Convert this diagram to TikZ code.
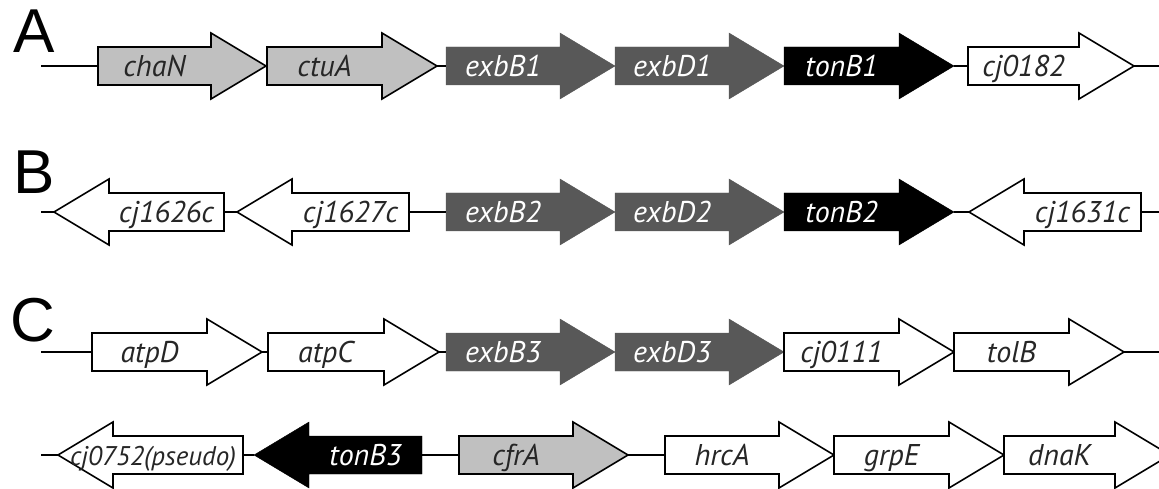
\documentclass[tikz,border=0pt]{standalone}
\usepackage{fontspec}
\newfontfamily\genefont{PT Sans}
\newfontfamily\panelfont{Liberation Sans}
\definecolor{lightgene}{HTML}{C0C0C0}
\definecolor{darkgene}{HTML}{585858}
\tikzset{
  backbone/.style={line width=1.6pt, draw=black},
  gwhite/.style={fill=white, draw=black, line width=1.6pt, line join=miter},
  glight/.style={fill=lightgene, draw=black, line width=1.6pt, line join=miter},
  gdark/.style={fill=darkgene, draw=darkgene, line width=0.4pt},
  gblack/.style={fill=black, draw=black, line width=0.4pt},
  lbl/.style={font=\genefont\itshape\fontsize{30}{30}\selectfont, inner sep=0pt, anchor=base, text=black!85},
  lblw/.style={lbl, text=white},
  lbls/.style={lbl, font=\genefont\itshape\fontsize{27}{27}\selectfont},
  panel/.style={font=\panelfont\fontsize{62}{62}\selectfont, inner sep=0pt, anchor=base west},
}
% #1 id, #2 tail x, #3 tip x, #4 axis y, #5 shape style, #6 label style, #7 text, #8 label x shift
\newcommand{\gene}[8]{%
  \pgfmathsetmacro{\gdir}{(#3>#2) ? 1 : -1}%
  \pgfmathsetmacro{\gbase}{#3-55*\gdir}%
  \pgfmathsetmacro{\gmid}{(#2+\gbase)/2+#8}%
  \path[#5] (#2,#4-19) -- (\gbase,#4-19) -- (\gbase,#4-33) -- (#3,#4)
     -- (\gbase,#4+33) -- (\gbase,#4+19) -- (#2,#4+19) -- cycle;
  \coordinate (#1-tail) at (#2,#4);
  \coordinate (#1-tip) at (#3,#4);
  \node[#6] (#1) at (\gmid,#4+10.5) {#7};
}
\begin{document}
\begin{tikzpicture}[x=1pt, y=-1pt]
  \useasboundingbox (0,0) rectangle (1159,489);
  \clip (0,0) rectangle (1159,489);
  % panel letters
  \node[panel] (pA) at (13,53) {A};
  \node[panel] (pB) at (13,194) {B};
  \node[panel] (pC) at (10,341) {C};

  % ---- Row A ----
  \coordinate (Astart) at (41,66);
  \coordinate (Aend) at (1159,66);
  \gene{chaN}{98}{266}{66}{glight}{lbl}{chaN}{0}
  \gene{ctuA}{267}{437}{66}{glight}{lbl}{ctuA}{0}
  \gene{exbB1}{446}{615}{66}{gdark}{lblw}{exbB1}{0}
  \gene{exbD1}{615}{784}{66}{gdark}{lblw}{exbD1}{0}
  \gene{tonB1}{784}{954}{66}{gblack}{lblw}{tonB1}{0}
  \gene{cj0182}{968}{1134}{66}{gwhite}{lbl}{cj0182}{0}
  \draw[backbone] (Astart) -- (chaN-tail);
  \draw[backbone] (ctuA-tip) -- (exbB1-tail);
  \draw[backbone] (tonB1-tip) -- (cj0182-tail);
  \draw[backbone] (cj0182-tip) -- (Aend);

  % ---- Row B ----
  \coordinate (Bstart) at (41,212);
  \coordinate (Bend) at (1159,212);
  \gene{cj1626c}{224}{54}{212}{gwhite}{lbl}{cj1626c}{0}
  \gene{cj1627c}{409}{237}{212}{gwhite}{lbl}{cj1627c}{0}
  \gene{exbB2}{446}{615}{212}{gdark}{lblw}{exbB2}{0}
  \gene{exbD2}{615}{784}{212}{gdark}{lblw}{exbD2}{0}
  \gene{tonB2}{784}{954}{212}{gblack}{lblw}{tonB2}{0}
  \gene{cj1631c}{1141}{969}{212}{gwhite}{lbl}{cj1631c}{0}
  \draw[backbone] (Bstart) -- (cj1626c-tip);
  \draw[backbone] (cj1626c-tail) -- (cj1627c-tip);
  \draw[backbone] (cj1627c-tail) -- (exbB2-tail);
  \draw[backbone] (tonB2-tip) -- (cj1631c-tip);
  \draw[backbone] (cj1631c-tail) -- (Bend);

  % ---- Row C, first line ----
  \coordinate (Cstart) at (41,352);
  \coordinate (Cend) at (1159,352);
  \gene{atpD}{92}{262}{352}{gwhite}{lbl}{atpD}{0}
  \gene{atpC}{268}{439}{352}{gwhite}{lbl}{atpC}{0}
  \gene{exbB3}{446}{615}{352}{gdark}{lblw}{exbB3}{0}
  \gene{exbD3}{615}{784}{352}{gdark}{lblw}{exbD3}{0}
  \gene{cj0111}{784}{954}{352}{gwhite}{lbl}{cj0111}{0}
  \gene{tolB}{954}{1124}{352}{gwhite}{lbl}{tolB}{0}
  \draw[backbone] (Cstart) -- (atpD-tail);
  \draw[backbone] (atpD-tip) -- (atpC-tail);
  \draw[backbone] (atpC-tip) -- (exbB3-tail);
  \draw[backbone] (tolB-tip) -- (Cend);

  % ---- Row C, second line ----
  \coordinate (Dstart) at (41,455);
  \gene{cj0752}{243}{58}{455}{gwhite}{lbls}{cj0752(pseudo)}{-25}
  \gene{tonB3}{422}{254}{455}{gblack}{lblw}{tonB3}{0}
  \gene{cfrA}{459}{628}{455}{glight}{lbl}{cfrA}{0}
  \gene{hrcA}{665}{834}{455}{gwhite}{lbl}{hrcA}{0}
  \gene{grpE}{834}{1004}{455}{gwhite}{lbl}{grpE}{0}
  \gene{dnaK}{1004}{1170}{455}{gwhite}{lbl}{dnaK}{0}
  \draw[backbone] (Dstart) -- (cj0752-tip);
  \draw[backbone] (cj0752-tail) -- (tonB3-tip);
  \draw[backbone] (tonB3-tail) -- (cfrA-tail);
  \draw[backbone] (cfrA-tip) -- (hrcA-tail);
\end{tikzpicture}
\end{document}
